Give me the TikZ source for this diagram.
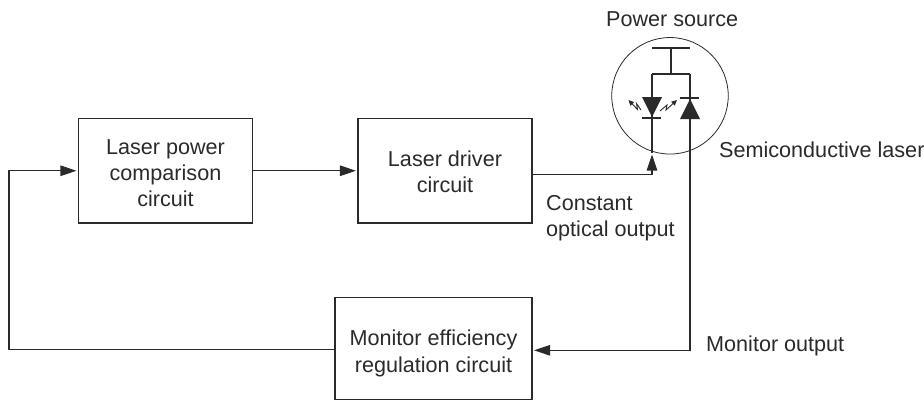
\documentclass[tikz,border=0pt]{standalone}
\usepackage{fontspec}
\setmainfont{Liberation Sans}
\usetikzlibrary{arrows.meta,calc}
\definecolor{ink}{HTML}{2A2A2A}
\tikzset{
  blockbox/.style={draw=ink,line width=1.1pt,align=center,inner sep=0pt,font=\fontsize{21.6}{26.3}\selectfont,text=ink},
  wire/.style={draw=ink,line width=1.1pt},
  arr/.style={wire,-{Triangle[length=16pt,width=10.5pt,fill=ink]},shorten >=1.5pt},
  lbl/.style={inner sep=0pt,anchor=base west,align=left,font=\fontsize{21.6}{26.3}\selectfont,text=ink},
  ray/.style={draw=ink,line width=0.9pt,-{Triangle[length=5.5pt,width=5pt,fill=ink]}},
  bar/.style={draw=ink,line width=2.2pt},
  solid fill/.style={fill=ink,draw=none}
}
\begin{document}
\begin{tikzpicture}[x=1pt,y=-1pt]
\useasboundingbox (0,0) rectangle (924,400);
\node[blockbox,minimum width=174pt,minimum height=104.5pt] (cmp) at (165.5,170.75) {\rule{0pt}{19.5pt}Laser power\\comparison\\circuit};
\node[blockbox,minimum width=174pt,minimum height=104.5pt] (drv) at (445,170.75) {\rule{0pt}{17.5pt}Laser driver\\circuit};
\node[blockbox,minimum width=197pt,minimum height=102pt] (mon) at (433.5,348.5) {\rule{0pt}{25.7pt}Monitor efficiency\\regulation circuit};
\node[draw=ink,line width=0.8pt,circle,minimum size=116.5pt,inner sep=0pt] (laser) at (670,95.8) {};
% labels
\node[lbl] (ps) at (606,26) {Power source};
\node[lbl] (sl) at (719,157) {Semiconductive laser};
\node[lbl] (co) at (546,210) {Constant};
\node[lbl] (oo) at (546,236) {optical output};
\node[lbl] (mo) at (706,351) {Monitor output};
% circuit coordinates
\coordinate (vtop) at (671,48);
\coordinate (vjoin) at (671,74);
\coordinate (ledx) at (652,74);
\coordinate (pdx) at (690,74);
\coordinate (ledin) at (652,153);
\coordinate (corner1) at (9,349.5);
\coordinate (corner2) at (9,170.75);
\coordinate (pdturn) at (690,350.3);
% power rail
\draw[wire] (652,48) -- (690,48);
\draw[wire] (vtop) -- (vjoin);
\draw[wire] (ledx) -- (pdx);
\draw[wire] (ledx) -- (ledin);
% LED
\path[solid fill] (642,97) -- (662,97) -- (652,117) -- cycle;
\draw[bar] (642,118) -- (661,118);
\draw[ray] (641,110) -- (636.5,103.5) -- (637.5,109.5) -- (628.5,100);
\draw[ray] (660,111) -- (667,105) -- (666,110) -- (677,100);
% photodiode
\draw[bar] (680,98) -- (699,98);
\path[solid fill] (680,119) -- (700,119) -- (690,99) -- cycle;
% connectors
\draw[arr] (cmp.east) -- (drv.west);
\draw[arr] ($(drv.east)+(0,3.75)$) -| (ledin);
\draw[arr] (pdx) -- (pdturn) -- (mon.east |- pdturn);
\draw[arr] ($(mon.west)+(0,1)$) -- (corner1) -- (corner2) -- (cmp.west);
\end{tikzpicture}
\end{document}
